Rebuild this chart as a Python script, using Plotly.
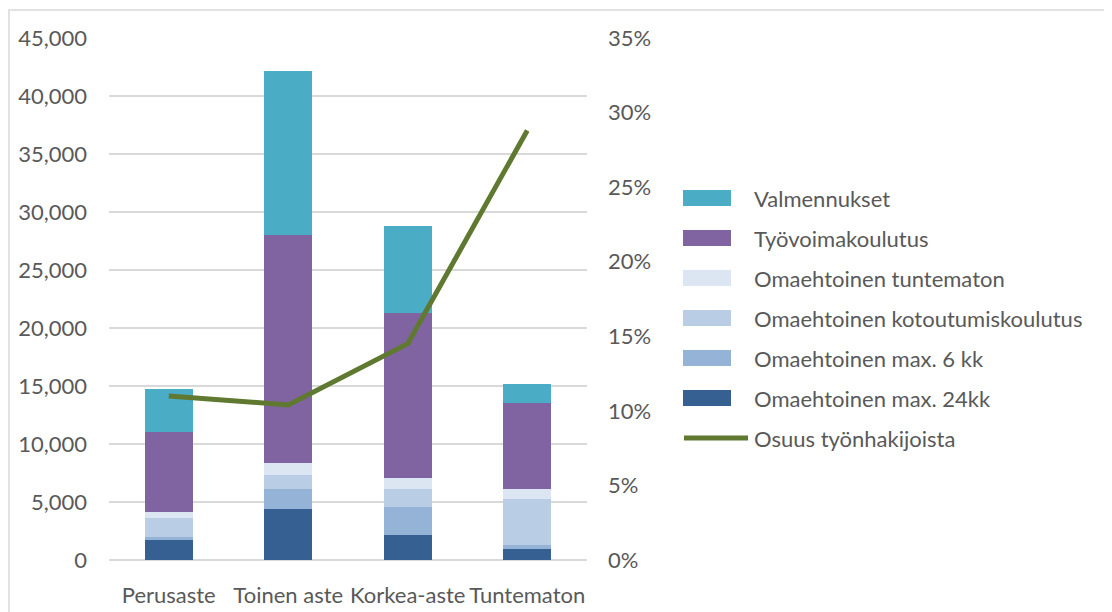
import plotly.graph_objects as go

# data
categories = ["Perusaste", "Toinen aste", "Korkea-aste", "Tuntematon"]

omaeht_24kk = [1720, 4400, 2150, 950]
omaeht_6kk = [260, 1720, 2420, 340]
omaeht_kotout = [1640, 1210, 1550, 3970]
omaeht_tuntematon = [520, 1030, 950, 860]
tyovoimakoulutus = [6890, 19650, 14220, 7410]
valmennukset = [3710, 14150, 7500, 1650]

osuus = [0.110, 0.104, 0.145, 0.288]

# stacking order bottom -> top
series = [
    ("Omaehtoinen max. 24kk", omaeht_24kk, "#376092"),
    ("Omaehtoinen max. 6 kk", omaeht_6kk, "#95B3D7"),
    ("Omaehtoinen kotoutumiskoulutus", omaeht_kotout, "#B9CDE5"),
    ("Omaehtoinen tuntematon", omaeht_tuntematon, "#DCE6F2"),
    ("Työvoimakoulutus", tyovoimakoulutus, "#8064A2"),
    ("Valmennukset", valmennukset, "#4BACC6"),
]
line_name = "Osuus työnhakijoista"
line_color = "#5F7A30"

# page body has an 8px margin, so the figure is a bit smaller than the window
OFF = 8
W, H = 1104, 604
L, R, T, B = 101, 525, 30, 52
FONT = "Lato, Open Sans, sans-serif"
TXT = "#595959"
FS = 22

fig = go.Figure()
for name, vals, col in series:
    fig.add_trace(go.Bar(x=categories, y=vals, name=name, marker_color=col,
                         marker_line_width=0, showlegend=False))

fig.add_trace(go.Scatter(x=categories, y=osuus, name=line_name, yaxis="y2",
                         mode="lines", line=dict(color=line_color, width=5),
                         showlegend=False))

# hand-drawn legend, Excel style (wide swatches); positions in window pixels
pw = W - L - R
ph = H - T - B
def px(x):
    return (x - OFF - L) / pw
def py(y):
    return (H - B - (y - OFF)) / ph

legend_items = [(n, c) for n, _, c in reversed(series)]
y0 = 198
for i, (name, col) in enumerate(legend_items):
    yc = y0 + 40 * i
    fig.add_shape(type="rect", xref="paper", yref="paper",
                  x0=px(683), x1=px(731), y0=py(yc - 8), y1=py(yc + 8),
                  fillcolor=col, line_width=0)
    fig.add_annotation(text=name, xref="paper", yref="paper", x=px(752), y=py(yc),
                       xanchor="left", yanchor="middle", showarrow=False,
                       font=dict(size=FS, color=TXT, family=FONT))
yc = y0 + 40 * len(legend_items)
fig.add_shape(type="line", xref="paper", yref="paper",
              x0=px(684), x1=px(748), y0=py(yc), y1=py(yc),
              line=dict(color=line_color, width=5))
fig.add_annotation(text=line_name, xref="paper", yref="paper", x=px(752), y=py(yc),
                   xanchor="left", yanchor="middle", showarrow=False,
                   font=dict(size=FS, color=TXT, family=FONT))

# chart border (only top and left are inside the picture)
fig.add_shape(type="rect", xref="paper", yref="paper",
              x0=px(9), x1=px(W + 40), y0=py(10), y1=py(H + 40),
              line=dict(color="#D9D9D9", width=1.5), fillcolor="rgba(0,0,0,0)",
              layer="below")

fig.update_layout(
    width=W, height=H,
    barmode="stack", bargap=0.6,
    plot_bgcolor="white", paper_bgcolor="white",
    margin=dict(l=L, r=R, t=T, b=B, autoexpand=False),
    font=dict(family=FONT, size=FS, color=TXT),
    showlegend=False,
    xaxis=dict(showgrid=False, showline=False, ticks="", ticklabelstandoff=20,
               tickfont=dict(size=FS, color=TXT)),
    yaxis=dict(range=[0, 45000], dtick=5000, tickformat=",", showgrid=True,
               gridcolor="#D9D9D9", gridwidth=1.5, zeroline=True,
               zerolinecolor="#D9D9D9", zerolinewidth=1.5, showline=False,
               ticklabelstandoff=21, tickfont=dict(size=FS, color=TXT)),
    yaxis2=dict(range=[0, 0.35], dtick=0.05, tickformat=".0%", overlaying="y",
                side="right", showgrid=False, zeroline=False, showline=False,
                ticklabelstandoff=20, tickfont=dict(size=FS, color=TXT)),
)

fig.write_html("out.html")
